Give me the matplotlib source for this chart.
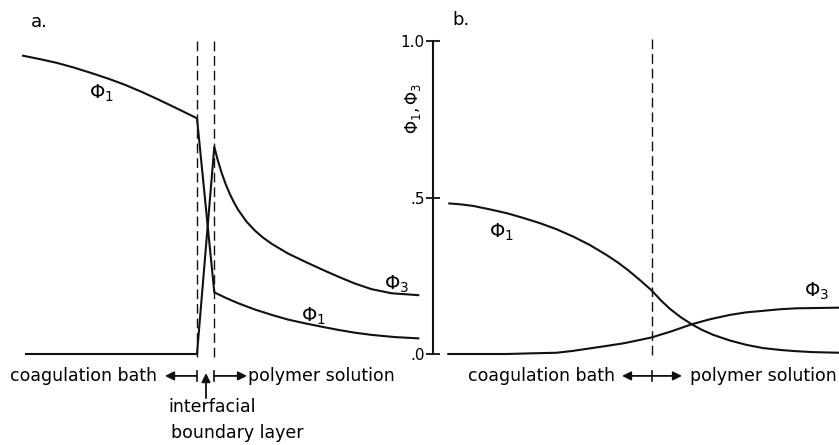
import matplotlib
matplotlib.use("Agg")
import matplotlib.pyplot as plt

# panel a: sharp front with an interfacial boundary layer
x_phi1_a = [2.3, 4.0, 5.7, 7.4, 9.1, 10.8, 12.5, 14.2, 15.9, 17.6, 19.7,
            21.43, 22.6, 23.83, 25.5, 27.17, 28.8, 30.5, 32.2, 33.83, 35.5, 37.17, 39.5, 41.83]
phi1_a = [0.953, 0.942, 0.930, 0.915, 0.898, 0.880, 0.860, 0.837, 0.812, 0.786, 0.753,
          0.197, 0.179, 0.162, 0.142, 0.125, 0.110, 0.098, 0.087, 0.077, 0.068, 0.061, 0.054, 0.050]
x_phi3_a = [2.6, 19.7, 21.43, 21.75, 22.17, 22.6, 23.0, 23.4, 23.83, 24.65, 25.5, 26.3,
            27.17, 28.8, 30.5, 32.2, 33.83, 35.5, 37.17, 39.17, 41.83]
phi3_a = [0.0, 0.0, 0.662, 0.622, 0.578, 0.540, 0.510, 0.484, 0.460, 0.423, 0.394, 0.372,
          0.352, 0.321, 0.295, 0.270, 0.247, 0.225, 0.207, 0.194, 0.188]
layer_a = [19.7, 21.4]

# panel b: smooth profiles across the interface
x_phi1_b = [1.63, 2.8, 4.03, 5.7, 7.37, 9.0, 10.7, 12.4, 14.03, 15.7, 17.37, 18.5, 19.5,
            20.7, 21.87, 22.8, 23.7, 24.8, 25.87, 26.9, 28.03, 29.7, 31.37, 33.0, 34.7,
            36.3, 38.03, 40.6]
phi1_b = [0.481, 0.478, 0.473, 0.462, 0.450, 0.435, 0.418, 0.398, 0.375, 0.348, 0.316,
          0.292, 0.268, 0.236, 0.203, 0.171, 0.144, 0.117, 0.095, 0.077, 0.061, 0.043,
          0.029, 0.019, 0.013, 0.009, 0.006, 0.004]
x_phi3_b = [1.53, 4.7, 7.37, 9.7, 12.37, 14.0, 15.7, 17.4, 19.03, 20.7, 21.87, 23.8,
            25.87, 27.7, 29.7, 31.3, 33.03, 34.7, 36.37, 38.5, 40.6]
phi3_b = [0.0, 0.0, 0.0, 0.002, 0.004, 0.010, 0.018, 0.026, 0.034, 0.045, 0.053, 0.072,
          0.095, 0.111, 0.125, 0.133, 0.138, 0.143, 0.146, 0.147, 0.148]
interface_b = 21.9

y_ticks = [0.0, 0.5, 1.0]
y_tick_labels = [".0", ".5", "1.0"]

ink = "#111111"
fs = 12.5

fig = plt.figure(figsize=(8.39, 4.45), dpi=100)
bottom = (445 - 354) / 445
height = 313 / 445
ax_a = fig.add_axes([0, bottom, 420 / 839, height])
ax_b = fig.add_axes([433 / 839, bottom, (839 - 433) / 839, height])

ax_a.set_xlim(0, 42)
ax_b.set_xlim(0, 40.6)
for ax in (ax_a, ax_b):
    ax.set_ylim(0, 1)
    ax.patch.set_alpha(0)
    for s in ax.spines.values():
        s.set_visible(False)
    ax.set_xticks([])

ax_a.set_yticks([])

# --- panel a ---
ax_a.plot(x_phi1_a, phi1_a, color=ink, lw=1.5, clip_on=False)
ax_a.plot(x_phi3_a, phi3_a, color=ink, lw=1.5, clip_on=False)
for xd in layer_a:
    ax_a.plot([xd, xd], [-0.009, 1.003], color=ink, lw=1.0,
              linestyle=(0, (7, 3.5)), clip_on=False)

ax_a.text(3.9, 1.061, "a.", fontsize=13, ha="center", va="center")
ax_a.text(10.1, 0.834, r"$\Phi_1$", fontsize=14, ha="center", va="center")
ax_a.text(31.3, 0.121, r"$\Phi_1$", fontsize=14, ha="center", va="center")
ax_a.text(39.7, 0.224, r"$\Phi_3$", fontsize=14, ha="center", va="center")

y_row = -0.070
arrow = dict(arrowstyle="-|>", lw=1.3, color=ink, mutation_scale=13,
             shrinkA=0, shrinkB=0)
ax_a.annotate("", xy=(16.5, y_row), xytext=(layer_a[0], y_row),
              arrowprops=arrow, annotation_clip=False)
ax_a.annotate("", xy=(24.7, y_row), xytext=(layer_a[1], y_row),
              arrowprops=arrow, annotation_clip=False)
for xd in layer_a:
    ax_a.plot([xd, xd], [-0.054, -0.086], color=ink, lw=1.2, clip_on=False)
ax_a.annotate("", xy=(20.6, -0.061), xytext=(20.6, -0.141),
              arrowprops=arrow, annotation_clip=False)

ax_a.text(15.7, y_row, "coagulation bath", fontsize=fs, ha="right", va="center")
ax_a.text(24.8, y_row, "polymer solution", fontsize=fs, ha="left", va="center")
ax_a.text(16.8, -0.169, "interfacial", fontsize=fs, ha="left", va="center")
ax_a.text(17.1, -0.252, "boundary layer", fontsize=fs, ha="left", va="center")

# --- panel b ---
ax_b.plot(x_phi1_b, phi1_b, color=ink, lw=1.5, clip_on=False)
ax_b.plot(x_phi3_b, phi3_b, color=ink, lw=1.5, clip_on=False)
ax_b.plot([interface_b, interface_b], [-0.003, 1.006], color=ink, lw=1.0,
          linestyle=(0, (7, 3.5)), clip_on=False)

ax_b.spines["left"].set_visible(True)
ax_b.spines["left"].set_linewidth(1.5)
ax_b.spines["left"].set_color(ink)
ax_b.set_yticks(y_ticks)
ax_b.set_yticklabels(y_tick_labels)
ax_b.tick_params(axis="y", direction="inout", length=10, width=1.3,
                 color=ink, labelsize=11, pad=1)
ax_b.text(-0.049, 0.786, r"$\Phi_1, \Phi_3$", transform=ax_b.transAxes,
          rotation=90, fontsize=12, ha="center", va="center")

ax_b.text(2.8, 1.067, "b.", fontsize=13, ha="center", va="center")
ax_b.text(6.8, 0.390, r"$\Phi_1$", fontsize=14, ha="center", va="center")
ax_b.text(38.4, 0.201, r"$\Phi_3$", fontsize=14, ha="center", va="center")

darrow = dict(arrowstyle="<|-|>", lw=1.3, color=ink, mutation_scale=13,
              shrinkA=0, shrinkB=0)
ax_b.annotate("", xy=(24.9, y_row), xytext=(18.9, y_row),
              arrowprops=darrow, annotation_clip=False)
ax_b.plot([interface_b, interface_b], [-0.054, -0.086], color=ink, lw=1.2,
          clip_on=False)
ax_b.text(18.2, y_row, "coagulation bath", fontsize=fs, ha="right", va="center")
ax_b.text(25.7, y_row, "polymer solution", fontsize=fs, ha="left", va="center")

fig.savefig("out.png", dpi=100, facecolor="white")
